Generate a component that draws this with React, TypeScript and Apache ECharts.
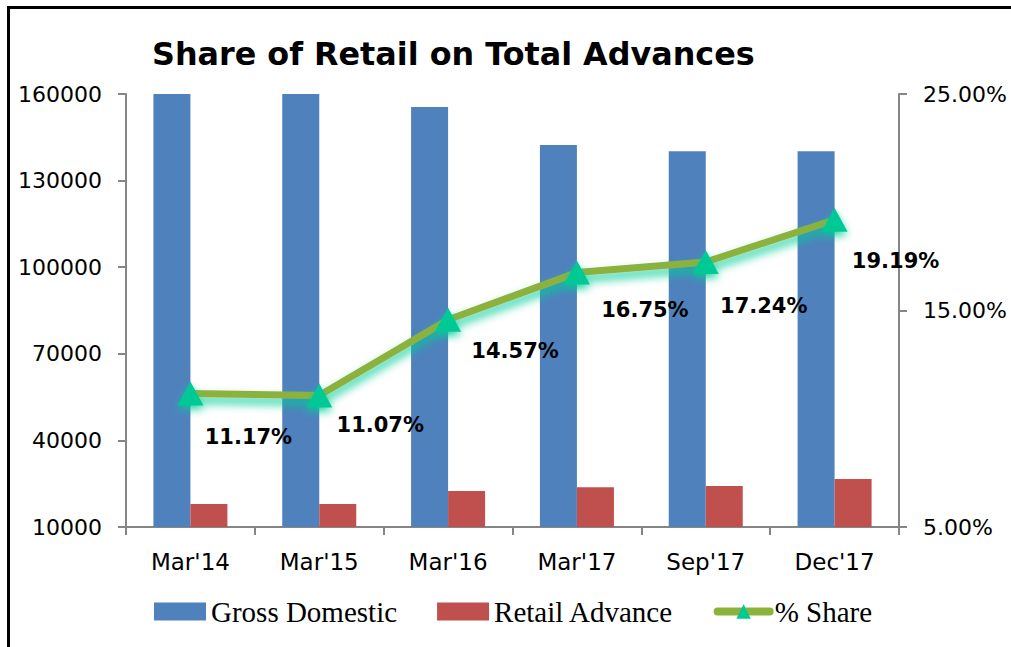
import React, { useEffect, useRef } from "react";
import * as echarts from "echarts";

const categories = ["Mar'14", "Mar'15", "Mar'16", "Mar'17", "Sep'17", "Dec'17"];
const grossDomestic = [160000, 160000, 155500, 142300, 140200, 140200];
const retailAdvance = [18000, 18000, 22500, 23800, 24200, 26600];
const shareValues = [11.17, 11.07, 14.57, 16.75, 17.24, 19.19];
const labelOffsets = [[58, 44], [61, 29], [67, 31], [68, 37], [58, 44], [61, 41]];

export default function App() {
  const ref = useRef<HTMLDivElement>(null);
  useEffect(() => {
    if (!ref.current) return;
    const chart = echarts.init(ref.current, null, { renderer: "svg" });
    const axisFont = { fontFamily: "DejaVu Sans", fontSize: 22, color: "#000" };
    chart.setOption({
      animation: false,
      backgroundColor: "#fff",
      title: {
        text: "Share of Retail on Total Advances",
        left: 147,
        top: 32,
        textStyle: { fontFamily: "DejaVu Sans", fontWeight: "bold", fontSize: 31.8, color: "#000" },
      },
      graphic: [
        { type: "line", shape: { x1: 8.5, y1: 6, x2: 8.5, y2: 660 }, style: { stroke: "#000", lineWidth: 3 } },
        { type: "line", shape: { x1: 7, y1: 7.5, x2: 1020, y2: 7.5 }, style: { stroke: "#000", lineWidth: 3 } },
      ],
      legend: {
        left: 149,
        top: 592,
        itemWidth: 52,
        itemHeight: 18,
        itemGap: 40,
        textStyle: { fontFamily: "Liberation Serif", fontSize: 29, color: "#000" },
        data: [
          { name: "Gross Domestic", icon: "rect" },
          { name: "Retail Advance", icon: "rect" },
          {
            name: "% Share",
            lineStyle: { width: 8, cap: "round", color: "#8CB23C", shadowBlur: 0 },
            itemStyle: { color: "#00C995", shadowBlur: 0 },
          },
        ],
      },
      grid: { left: 126, right: 112, top: 94, bottom: 120 },
      xAxis: {
        type: "category",
        data: categories,
        axisLine: { lineStyle: { color: "#868686", width: 2 } },
        axisTick: { show: true, length: 8, lineStyle: { color: "#868686", width: 2 } },
        axisLabel: { ...axisFont, fontSize: 23, margin: 23 },
      },
      yAxis: [
        {
          type: "value",
          min: 10000,
          max: 160000,
          interval: 30000,
          splitLine: { show: false },
          axisLine: { show: true, lineStyle: { color: "#868686", width: 2 } },
          axisTick: { show: true, length: 8, lineStyle: { color: "#868686", width: 2 } },
          axisLabel: { ...axisFont, margin: 24, formatter: (v: number) => String(v) },
        },
        {
          type: "value",
          min: 5,
          max: 25,
          interval: 10,
          position: "right",
          splitLine: { show: false },
          axisLine: { show: true, lineStyle: { color: "#868686", width: 2 } },
          axisTick: { show: true, length: 8, lineStyle: { color: "#868686", width: 2 } },
          axisLabel: { ...axisFont, margin: 24, formatter: (v: number) => v.toFixed(2) + "%" },
        },
      ],
      series: [
        {
          name: "Gross Domestic",
          type: "bar",
          data: grossDomestic,
          barWidth: 37,
          barGap: "0%",
          itemStyle: { color: "#4F81BD" },
        },
        {
          name: "Retail Advance",
          type: "bar",
          data: retailAdvance,
          barWidth: 37,
          barGap: "0%",
          itemStyle: { color: "#C0504D" },
        },
        {
          name: "% Share",
          type: "line",
          yAxisIndex: 1,
          data: shareValues.map((v, i) => ({
            value: v,
            label: { offset: labelOffsets[i] },
          })),
          symbol: "triangle",
          symbolSize: [26, 24],
          lineStyle: {
            color: "#8CB23C",
            width: 7,
            shadowColor: "rgba(0, 205, 150, 0.9)",
            shadowBlur: 10,
            shadowOffsetY: 6,
          },
          itemStyle: {
            color: "#00C995",
            shadowColor: "rgba(0, 205, 150, 0.8)",
            shadowBlur: 8,
            shadowOffsetY: 4,
          },
          label: {
            show: true,
            position: "inside",
            formatter: (p: any) => p.value.toFixed(2) + "%",
            fontFamily: "DejaVu Sans",
            fontWeight: "bold",
            fontSize: 21,
            color: "#000",
          },
          z: 5,
        },
      ],
    });
    return () => chart.dispose();
  }, []);
  return (
    <div
      ref={ref}
      style={{ position: "fixed", left: 0, top: 0, width: 1011, height: 647 }}
    />
  );
}
